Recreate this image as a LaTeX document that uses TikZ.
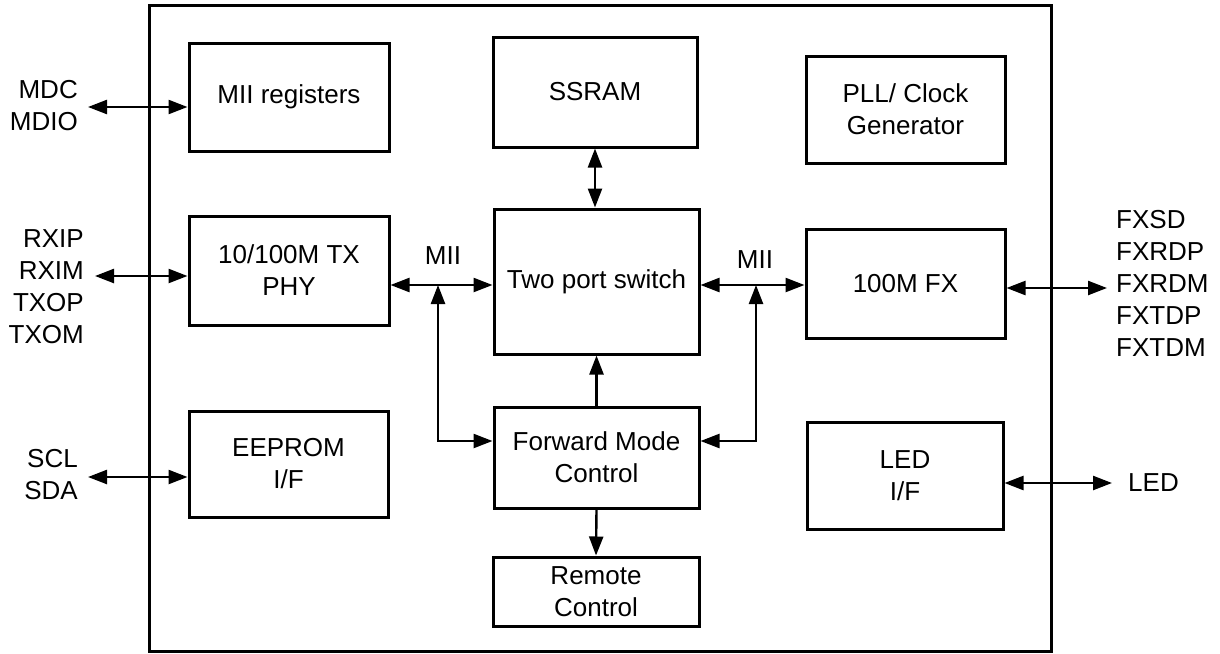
\documentclass[tikz,border=0pt]{standalone}
\usepackage{fontspec}
\setmainfont{Liberation Sans}
\usetikzlibrary{arrows.meta}
\begin{document}
\begin{tikzpicture}[x=1pt,y=-1pt,
  box/.style={draw,line width=3pt,inner sep=0pt,align=center,font=\fontsize{26}{32}\selectfont},
  lbl/.style={inner sep=0pt,font=\fontsize{26}{32}\selectfont},
  conn/.style={line width=2.4pt,{Triangle[length=19pt,width=14pt]}-{Triangle[length=19pt,width=14pt]}},
  uni/.style={line width=2.4pt,-{Triangle[length=19pt,width=14pt]}}]
\useasboundingbox (0,0) rectangle (1220,653);
\draw[line width=3pt] (149,5) rectangle (1051,651);
% blocks
\node[box,minimum width=200pt,minimum height=108pt] (mii) at (289,97) {MII registers};
\node[box,minimum width=204pt,minimum height=110pt] (ssram) at (595,92) {SSRAM};
\node[box,minimum width=199pt,minimum height=107pt] (pll) at (905.5,109.5) {PLL/ Clock\\Generator};
\node[box,minimum width=200pt,minimum height=109pt] (phy) at (289,270.5) {10/100M TX\\PHY};
\node[box,minimum width=205pt,minimum height=145pt] (sw) at (596.5,281.5) {Two port switch};
\node[box,minimum width=199pt,minimum height=109pt] (fx) at (905.5,283.5) {100M FX};
\node[box,minimum width=199pt,minimum height=106pt] (eep) at (288.5,464) {EEPROM\\I/F};
\node[box,minimum width=205pt,minimum height=101pt] (fmc) at (596.5,457.5) {Forward Mode\\Control};
\node[box,minimum width=196pt,minimum height=107pt] (led) at (905,475.5) {LED\\I/F};
\node[box,minimum width=206pt,minimum height=69pt] (rc) at (596,591.5) {Remote\\Control};
% outside labels
\node[lbl,anchor=east,align=right] (lmdc) at (78,106) {MDC\\MDIO};
\node[lbl,anchor=east,align=right] (lrx) at (84,287) {RXIP\\RXIM\\TXOP\\TXOM};
\node[lbl,anchor=east,align=right] (lscl) at (78,475) {SCL\\SDA};
\node[lbl,anchor=west,align=left] (lfx) at (1116,283) {FXSD\\FXRDP\\FXRDM\\FXTDP\\FXTDM};
\node[lbl,anchor=west] (lled) at (1128,483) {LED};
\node[lbl] (miil) at (443,256) {MII};
\node[lbl] (miir) at (755,260) {MII};
% connector end points
\coordinate (pmdc) at (88,107);
\coordinate (prx) at (95,276);
\coordinate (pscl) at (88,477);
\coordinate (pfx) at (1107,288);
\coordinate (pled) at (1112,483);
\coordinate (jl) at (438,285);
\coordinate (jr) at (756,285);
\coordinate (fl) at (438,441);
\coordinate (fr) at (756,441);
% external connectors
\draw[conn] (pmdc) -- (pmdc -| mii.west);
\draw[conn] (prx) -- (prx -| phy.west);
\draw[conn] (pscl) -- (pscl -| eep.west);
\draw[conn] (pfx -| fx.east) -- (pfx);
\draw[conn] (pled -| led.east) -- (pled);
% internal connectors
\draw[conn] (jl -| phy.east) -- (jl -| sw.west);
\draw[conn] (jr -| sw.east) -- (jr -| fx.west);
\draw[conn] (jl) -- (fl) -- (fl -| fmc.west);
\draw[conn] (jr) -- (fr) -- (fr -| fmc.east);
\draw[conn] (ssram.south) -- (ssram.south |- sw.north);
\draw[uni] (fmc.north) -- (sw.south);
\draw[uni] (fmc.south) -- (rc.north);
\end{tikzpicture}
\end{document}
